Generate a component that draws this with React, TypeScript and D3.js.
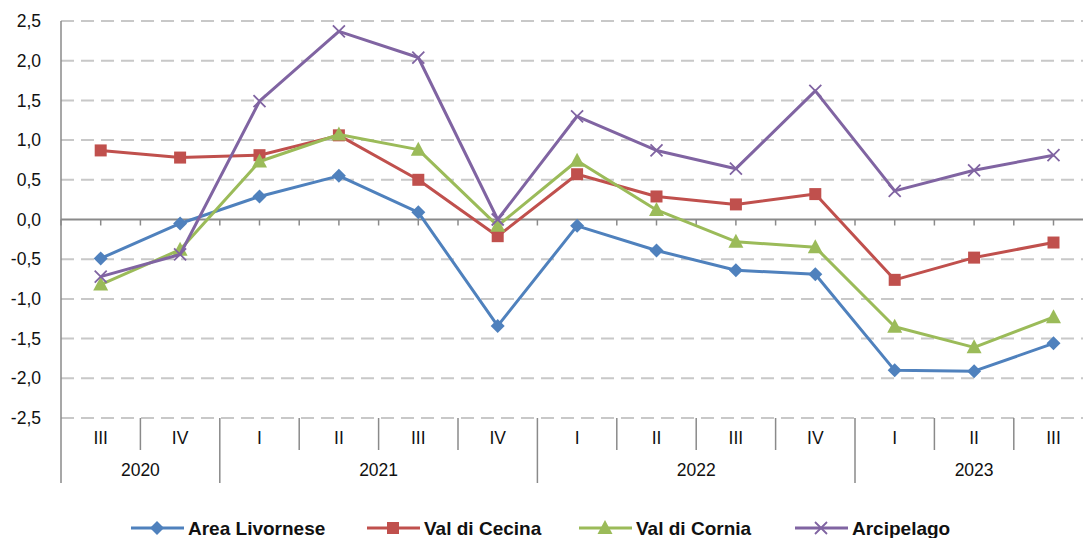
import { useEffect, useRef } from "react";
import * as d3 from "d3";

const quarters = ["III", "IV", "I", "II", "III", "IV", "I", "II", "III", "IV", "I", "II", "III"];
const years = [
  { label: "2020", count: 2 },
  { label: "2021", count: 4 },
  { label: "2022", count: 4 },
  { label: "2023", count: 3 },
];
const yTicks = [2.5, 2.0, 1.5, 1.0, 0.5, 0.0, -0.5, -1.0, -1.5, -2.0, -2.5];

const areaLivornese = [-0.49, -0.05, 0.29, 0.55, 0.09, -1.34, -0.08, -0.39, -0.64, -0.69, -1.9, -1.91, -1.56];
const valDiCecina = [0.87, 0.78, 0.81, 1.06, 0.5, -0.21, 0.57, 0.29, 0.19, 0.32, -0.76, -0.48, -0.29];
const valDiCornia = [-0.82, -0.38, 0.73, 1.07, 0.88, -0.08, 0.74, 0.12, -0.28, -0.35, -1.35, -1.61, -1.23];
const arcipelago = [-0.72, -0.44, 1.49, 2.37, 2.04, 0.0, 1.3, 0.87, 0.64, 1.62, 0.36, 0.62, 0.81];

const series = [
  { name: "Area Livornese", values: areaLivornese, color: "#4F81BD", marker: "diamond" },
  { name: "Val di Cecina", values: valDiCecina, color: "#C0504D", marker: "square" },
  { name: "Val di Cornia", values: valDiCornia, color: "#9BBB59", marker: "triangle" },
  { name: "Arcipelago", values: arcipelago, color: "#8064A2", marker: "cross" },
];

const W = 1083;
const H = 538;
const FONT = "'Liberation Sans', Arial, sans-serif";

function drawMarker(g: any, type: string, x: number, y: number, color: string) {
  if (type === "diamond") {
    g.append("path")
      .attr("d", `M${x},${y - 7}L${x + 7},${y}L${x},${y + 7}L${x - 7},${y}Z`)
      .attr("fill", color);
  } else if (type === "square") {
    g.append("rect")
      .attr("x", x - 6).attr("y", y - 6)
      .attr("width", 12).attr("height", 12)
      .attr("fill", color);
  } else if (type === "triangle") {
    g.append("path")
      .attr("d", `M${x},${y - 8}L${x + 7.5},${y + 6}L${x - 7.5},${y + 6}Z`)
      .attr("fill", color);
  } else {
    g.append("path")
      .attr("d", `M${x - 6},${y - 6}L${x + 6},${y + 6}M${x - 6},${y + 6}L${x + 6},${y - 6}`)
      .attr("stroke", color)
      .attr("stroke-width", 1.8)
      .attr("fill", "none");
  }
}

export default function App() {
  const svgRef = useRef<SVGSVGElement>(null);

  useEffect(() => {
    const svg = d3.select(svgRef.current);
    svg.selectAll("*").remove();

    const left = 61;
    const top = 21;
    const bottom = 418;

    const x = d3.scaleBand<number>()
      .domain(quarters.map((d, i) => i))
      .range([left, left + 79.4 * quarters.length])
      .paddingInner(0)
      .paddingOuter(0);
    const bw = x.bandwidth();
    const cx = (i: number) => (x(i) as number) + bw / 2;

    const y = d3.scaleLinear().domain([-2.5, 2.5]).range([bottom, top]);

    // gridlines
    svg.append("g")
      .selectAll("line")
      .data(yTicks.filter(d => d !== 0))
      .join("line")
      .attr("x1", left)
      .attr("x2", W)
      .attr("y1", d => y(d))
      .attr("y2", d => y(d))
      .attr("stroke", "#c8c8c8")
      .attr("stroke-width", 2)
      .attr("stroke-dasharray", "13,7");

    // y labels
    svg.append("g")
      .selectAll("text")
      .data(yTicks)
      .join("text")
      .attr("x", 41)
      .attr("y", d => y(d))
      .attr("dy", "0.35em")
      .attr("text-anchor", "end")
      .attr("font-family", FONT)
      .attr("font-size", 17.5)
      .attr("fill", "#111")
      .text(d => d3.format(".1f")(d).replace(".", ",").replace("−", "-"));

    // zero axis with ticks
    svg.append("line")
      .attr("x1", left).attr("x2", W)
      .attr("y1", y(0)).attr("y2", y(0))
      .attr("stroke", "#8a8a8a")
      .attr("stroke-width", 2);
    const halfTicks: number[] = [];
    quarters.forEach((d, i) => { halfTicks.push(x(i) as number); halfTicks.push(cx(i)); });
    svg.append("g")
      .selectAll("line")
      .data(halfTicks)
      .join("line")
      .attr("x1", d => d).attr("x2", d => d)
      .attr("y1", y(0)).attr("y2", y(0) + 6)
      .attr("stroke", "#8a8a8a")
      .attr("stroke-width", 1.5);

    // left axis line
    svg.append("line")
      .attr("x1", left).attr("x2", left)
      .attr("y1", top).attr("y2", 483)
      .attr("stroke", "#8a8a8a")
      .attr("stroke-width", 1.5);

    // category separators
    const yearStarts = new Set<number>();
    let acc = 0;
    years.forEach(yr => { yearStarts.add(acc); acc += yr.count; });
    yearStarts.add(acc);
    const seps = d3.range(1, quarters.length + 1);
    svg.append("g")
      .selectAll("line")
      .data(seps)
      .join("line")
      .attr("x1", i => left + i * bw)
      .attr("x2", i => left + i * bw)
      .attr("y1", bottom)
      .attr("y2", i => (yearStarts.has(i) ? 483 : 450))
      .attr("stroke", "#8a8a8a")
      .attr("stroke-width", 1.5);

    // quarter labels
    svg.append("g")
      .selectAll("text")
      .data(quarters)
      .join("text")
      .attr("x", (d, i) => cx(i))
      .attr("y", 438)
      .attr("dy", "0.35em")
      .attr("text-anchor", "middle")
      .attr("font-family", FONT)
      .attr("font-size", 17.5)
      .attr("fill", "#111")
      .text(d => d);

    // year labels
    let start = 0;
    years.forEach(yr => {
      const x0 = x(start) as number;
      const x1 = left + (start + yr.count) * bw;
      svg.append("text")
        .attr("x", (x0 + x1) / 2)
        .attr("y", 470)
        .attr("dy", "0.35em")
        .attr("text-anchor", "middle")
        .attr("font-family", FONT)
        .attr("font-size", 17.5)
        .attr("fill", "#111")
        .text(yr.label);
      start += yr.count;
    });

    // lines + markers
    const line = d3.line<number>()
      .x((d, i) => cx(i))
      .y(d => y(d));

    series.forEach(s => {
      const g = svg.append("g");
      g.append("path")
        .attr("d", line(s.values))
        .attr("fill", "none")
        .attr("stroke", s.color)
        .attr("stroke-width", 3)
        .attr("stroke-linejoin", "round");
      s.values.forEach((v, i) => drawMarker(g, s.marker, cx(i), y(v), s.color));
    });

    // legend
    const legendX = [131, 367, 579, 795];
    const ly = 528;
    series.forEach((s, i) => {
      const g = svg.append("g");
      g.append("line")
        .attr("x1", legendX[i]).attr("x2", legendX[i] + 53)
        .attr("y1", ly).attr("y2", ly)
        .attr("stroke", s.color)
        .attr("stroke-width", 3);
      drawMarker(g, s.marker, legendX[i] + 26, ly, s.color);
      g.append("text")
        .attr("x", legendX[i] + 57)
        .attr("y", ly)
        .attr("dy", "0.35em")
        .attr("font-family", FONT)
        .attr("font-weight", "bold")
        .attr("font-size", 19)
        .attr("fill", "#111")
        .text(s.name);
    });
  }, []);

  return (
    <svg
      ref={svgRef}
      width={W}
      height={H}
      style={{ position: "absolute", left: 0, top: 0, background: "#fff" }}
    />
  );
}
